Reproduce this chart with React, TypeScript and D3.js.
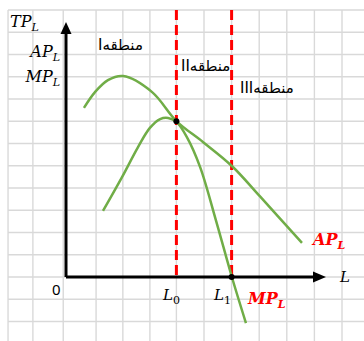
import React from "react";
import * as d3 from "d3";

// Labour units (x) vs output (y)
const apL = [0.65, 1.05, 1.52, 2.07, 3.12, 4.0, 4.96, 6.01, 7.03, 8.55];
const apV = [7.6, 8.31, 8.85, 9.03, 8.31, 7.01, 6.07, 4.99, 3.62, 1.53];
const mpL = [1.34, 2.03, 2.61, 3.04, 3.41, 3.7, 4.0, 4.38, 4.86, 5.43, 6.01, 6.52];
const mpV = [2.97, 4.49, 5.84, 6.7, 7.1, 7.15, 6.97, 6.29, 4.94, 2.56, 0, -2.07];
const L0 = 4;
const L1 = 6;
const gridCols = [-2.1, -1.2, -0.1, 1.09, 2.06, 3.04, 4, 5, 6, 7, 8, 9, 10];
const gridRows = [-3, -2, -1, 0, 1, 2, 3, 4, 5, 6, 7, 8, 9, 10, 11, 12];
const regionLabels = ["Iمنطقه", "IIمنطقه", "IIIمنطقه"];

export default function App() {
  const W = 364, H = 341;
  const x = d3.scaleLinear().domain([0, 10]).range([66, 342]);
  const y = d3.scaleLinear().domain([0, 12]).range([277, 10]);
  const line = d3
    .line<[number, number]>()
    .x((d) => x(d[0]))
    .y((d) => y(d[1]))
    .curve(d3.curveCatmullRom.alpha(0.5));
  const apPts = apL.map((l, i) => [l, apV[i]] as [number, number]);
  const mpPts = mpL.map((l, i) => [l, mpV[i]] as [number, number]);
  const gridColor = "#d9d9d9";
  const green = "#70ad47";
  const serif = "'DejaVu Serif', serif";
  const x0 = x(0), yAxis = y(0);
  const yTop = y(12);
  return (
    <svg width={W} height={H} style={{ position: "absolute", left: 0, top: 0, background: "#fff" }}>
      <rect width={W} height={H} fill="#fff" />
      {gridCols.map((c, i) => (
        <line key={"c" + i} x1={x(c)} x2={x(c)} y1={yTop} y2={H} stroke={gridColor} strokeWidth={1.4} />
      ))}
      {gridRows.map((r, i) => (
        <line key={"r" + i} x1={x(gridCols[0])} x2={W} y1={y(r)} y2={y(r)} stroke={gridColor} strokeWidth={1.4} />
      ))}
      {/* red dashed region boundaries */}
      {[L0, L1].map((l, i) => (
        <line key={"d" + i} x1={x(l)} x2={x(l)} y1={yTop} y2={yAxis} stroke="#ff0000" strokeWidth={3} strokeDasharray="10,5" />
      ))}
      {/* axes */}
      <line x1={x0} x2={x0} y1={yAxis} y2={33} stroke="#000" strokeWidth={3} />
      <path d={`M${x0},22 L${x0 - 5.5},34 L${x0 + 5.5},34 Z`} fill="#000" />
      <line x1={x0} x2={314} y1={yAxis} y2={yAxis} stroke="#000" strokeWidth={3} />
      <path d={`M326,${yAxis} L313,${yAxis - 5.5} L313,${yAxis + 5.5} Z`} fill="#000" />
      {/* curves */}
      <path d={line(apPts) || ""} fill="none" stroke={green} strokeWidth={2.5} />
      <path d={line(mpPts) || ""} fill="none" stroke={green} strokeWidth={2.5} />
      <circle cx={x(L0)} cy={y(7.0)} r={3} fill="#000" />
      <circle cx={x(L1)} cy={yAxis} r={3} fill="#000" />
      {/* y-axis labels */}
      <g fontFamily={serif} fontStyle="italic" fill="#000">
        <text x={10} y={27} fontSize={16}>TP<tspan fontSize={11} dy={4}>L</tspan></text>
        <text x={60} y={57} fontSize={16} textAnchor="end">AP<tspan fontSize={11} dy={4}>L</tspan></text>
        <text x={60} y={82} fontSize={16} textAnchor="end">MP<tspan fontSize={11} dy={4}>L</tspan></text>
        <text x={340} y={282} fontSize={15}>L</text>
        <text x={163} y={300} fontSize={15}>L<tspan fontSize={11} dy={4} fontStyle="normal">0</tspan></text>
        <text x={214} y={300} fontSize={15}>L<tspan fontSize={11} dy={4} fontStyle="normal">1</tspan></text>
      </g>
      <text x={52} y={295} fontSize={15} fontFamily="'Noto Sans', sans-serif" fill="#000">0</text>
      <g fontFamily={serif} fontStyle="italic" fontWeight="bold" fill="#ff0000">
        <text x={313} y={245} fontSize={16}>AP<tspan fontSize={11} dy={4}>L</tspan></text>
        <text x={248} y={304} fontSize={16}>MP<tspan fontSize={11} dy={4}>L</tspan></text>
      </g>
      <g fontFamily="'DejaVu Sans', sans-serif" fontSize={15} fill="#000">
        <text x={98} y={50} direction="ltr">{regionLabels[0]}</text>
        <text x={181} y={71} direction="ltr">{regionLabels[1]}</text>
        <text x={240} y={93} direction="ltr">{regionLabels[2]}</text>
      </g>
    </svg>
  );
}
